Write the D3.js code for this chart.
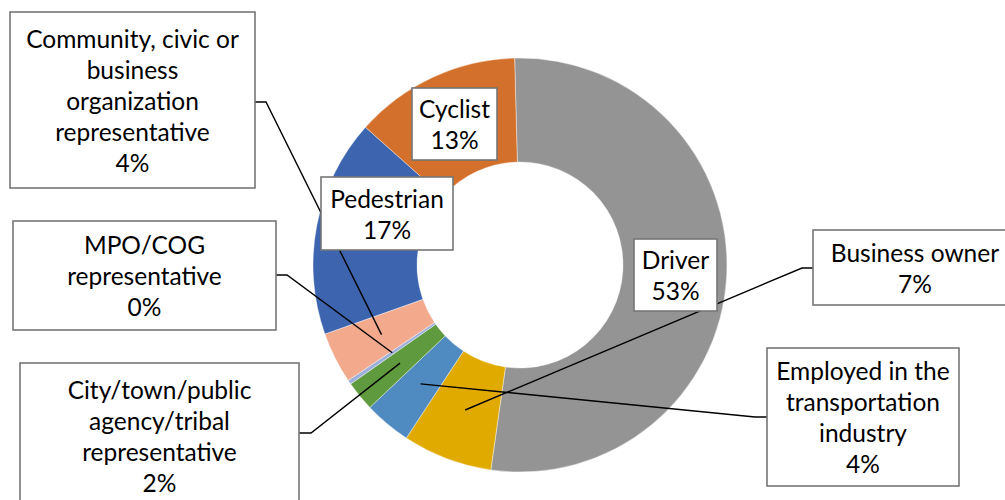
<!DOCTYPE html>
<html>
<head>
<meta charset="utf-8">
<script src="https://cdn.jsdelivr.net/npm/d3@7"></script>
<style>
  html, body { margin: 0; padding: 0; background: #fff; }
  svg { display: block; }
  text { font-family: Lato, "Open Sans", sans-serif; fill: #000; }
</style>
</head>
<body>
<svg id="chart" width="1005" height="500"></svg>
<script>
// Respondent roles (counts of responses)
const categories = [
  "Driver",
  "Business owner",
  "Employed in the transportation industry",
  "City/town/public agency/tribal representative",
  "MPO/COG representative",
  "Community, civic or business organization representative",
  "Pedestrian",
  "Cyclist"
];
const counts = [158, 21, 11, 7, 1, 12, 51, 39];
const colors = ["#949494", "#e1aa00", "#4f8bc0", "#5f9a3e", "#9db0dc", "#f2a98c", "#3d64af", "#d3702b"];

// Label text broken into lines (category part); percent is appended
const labelLines = [
  ["Driver"],
  ["Business owner"],
  ["Employed in the", "transportation", "industry"],
  ["City/town/public", "agency/tribal", "representative"],
  ["MPO/COG", "representative"],
  ["Community, civic or", "business", "organization", "representative"],
  ["Pedestrian"],
  ["Cyclist"]
];

// Callout layout: box [x, y, w, h], text centre x, optional elbow point for leader line
const layout = [
  { box: [634, 239, 83, 72],   tx: 675.5 },
  { box: [813, 230, 205, 75],  tx: 915,   elbow: [802, 268] },
  { box: [767, 348, 192, 138], tx: 863,   elbow: [755, 417] },
  { box: [20, 363, 279, 150],  tx: 159.5, elbow: [311, 433], textCy: 436 },
  { box: [13, 221, 263, 109],  tx: 144.5, elbow: [287, 275] },
  { box: [10, 12, 245, 176],   tx: 132.5, elbow: [266, 102] },
  { box: [321, 177, 132, 73],  tx: 387 },
  { box: [412, 88, 85, 72],    tx: 454.5 }
];

const cx = 520, cy = 265, rOuter = 207, rInner = 103;
const lineGap = 31;
const svg = d3.select("#chart");

const total = d3.sum(counts);
const pct = d3.format(".0%");

const pie = d3.pie().sort(null).value(d => d)
  .startAngle(-0.026).endAngle(2 * Math.PI - 0.026);
const arc = d3.arc().innerRadius(rInner).outerRadius(rOuter);
const arcs = pie(counts);

const g = svg.append("g").attr("transform", `translate(${cx},${cy})`);
g.selectAll("path.slice")
  .data(arcs)
  .join("path")
  .attr("class", "slice")
  .attr("d", arc)
  .attr("fill", (d, i) => colors[i])
  .attr("stroke", "#fff")
  .attr("stroke-width", 0.4);

// Leader lines from slice centroid to elbow, then to box edge
arcs.forEach((a, i) => {
  const L = layout[i];
  if (!L.elbow) return;
  const [mx, my] = arc.centroid(a);
  const start = [cx + mx, cy + my];
  const [bx, by, bw] = L.box;
  const edgeX = (L.elbow[0] > bx + bw / 2) ? bx + bw : bx;
  svg.append("polyline")
    .attr("points", [start, L.elbow, [edgeX, L.elbow[1]]].map(p => p.join(",")).join(" "))
    .attr("fill", "none")
    .attr("stroke", "#000")
    .attr("stroke-width", 1.4);
});

// Callout boxes with text
arcs.forEach((a, i) => {
  const L = layout[i];
  const [bx, by, bw, bh] = L.box;
  const grp = svg.append("g");
  grp.append("rect")
    .attr("x", bx).attr("y", by).attr("width", bw).attr("height", bh)
    .attr("fill", "#fff")
    .attr("stroke", "#767676")
    .attr("stroke-width", 1.6);
  const lines = labelLines[i].concat([pct(counts[i] / total)]);
  const midY = L.textCy !== undefined ? L.textCy : by + bh / 2;
  lines.forEach((t, k) => {
    grp.append("text")
      .attr("x", L.tx)
      .attr("y", midY + (k - (lines.length - 1) / 2) * lineGap)
      .attr("text-anchor", "middle")
      .attr("dominant-baseline", "central")
      .attr("font-size", 24.5)
      .text(t);
  });
});
</script>
</body>
</html>
